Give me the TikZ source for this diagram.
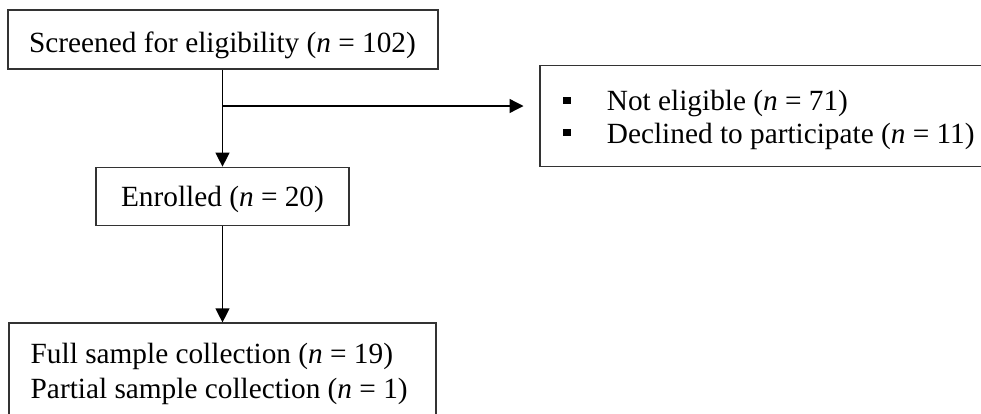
\documentclass[tikz,border=0pt]{standalone}
\usepackage{fontspec}
\setmainfont{Liberation Serif}
\usetikzlibrary{arrows.meta}
\begin{document}
\begin{tikzpicture}[x=1pt,y=-1pt,
  box/.style={draw=black!80, line width=1.2pt, rectangle, inner sep=0pt},
  lbl/.style={inner sep=0pt, font=\fontsize{29.3}{35}\selectfont},
  conn/.style={line width=1.3pt, -{Triangle[length=14pt,width=14pt]}},
  bul/.style={fill=black, inner sep=0pt, minimum width=7.5pt, minimum height=6.5pt}]
\clip (0,0) rectangle (981,413);
% boxes
\node[box, minimum width=430pt, minimum height=59pt] (screen) at (223,39.5) {};
\node[box, minimum width=253pt, minimum height=58.5pt] (enrol) at (222.5,196.5) {};
\node[box, minimum width=460pt, minimum height=101pt] (excl) at (770,116) {};
\node[box, minimum width=427pt, minimum height=110pt] (final) at (222.5,378) {};
% texts
\node[lbl, anchor=base] (t1) at (222.5,52) {Screened for eligibility (\textit{n} = 102)};
\node[lbl, anchor=base] (t2) at (222.5,206.5) {Enrolled (\textit{n} = 20)};
\node[lbl, anchor=base west] (t3) at (606.7,110) {Not eligible (\textit{n} = 71)};
\node[lbl, anchor=base west] (t4) at (606.7,143.3) {Declined to participate (\textit{n}~=~11)};
\node[bul] (b1) at (567,100.3) {};
\node[bul] (b2) at (567,132.5) {};
\node[lbl, anchor=base west] (t5) at (30.5,363.3) {Full sample collection (\textit{n} = 19)};
\node[lbl, anchor=base west] (t6) at (30.5,398) {Partial sample collection (\textit{n} = 1)};
% connectors
\coordinate (split) at (222.5,106);
\coordinate (tip) at (523.5,106);
\draw[conn] (screen.south -| split) -- (enrol.north);
\draw[conn] (split) -- (tip);
\draw[conn] (enrol.south) -- (final.north);
\end{tikzpicture}
\end{document}
